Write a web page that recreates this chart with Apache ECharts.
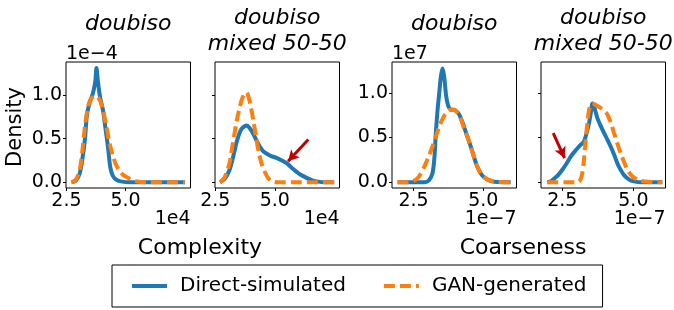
<!DOCTYPE html>
<html>
<head>
<meta charset="utf-8">
<script src="https://cdn.jsdelivr.net/npm/echarts@6/dist/echarts.min.js"></script>
<style>
  html, body { margin: 0; padding: 0; background: #fff; }
  #chart { width: 674px; height: 310px; }
</style>
</head>
<body>
<div id="chart"></div>
<script>
// Complexity (x in 1e4, density in 1e-4)
var cxDoubBlue = [2.71, 2.9, 3.06, 3.18, 3.28, 3.37, 3.5, 3.62, 3.72, 3.77, 3.83, 3.92, 4.05, 4.15, 4.26, 4.35, 4.45, 4.6, 4.8, 5.2, 6.0, 7.51];
var cyDoubBlue = [0.0, 0.02, 0.10, 0.28, 0.49, 0.78, 0.93, 1.02, 1.16, 1.31, 1.16, 0.98, 0.82, 0.62, 0.40, 0.18, 0.08, 0.03, 0.01, 0.0, 0.0, 0.0];
var cxDoubOrange = [2.71, 2.9, 3.06, 3.18, 3.28, 3.4, 3.52, 3.7, 3.9, 4.05, 4.19, 4.33, 4.47, 4.6, 4.8, 5.04, 5.47, 6.0, 7.51];
var cyDoubOrange = [0.0, 0.03, 0.14, 0.38, 0.64, 0.85, 0.95, 0.99, 0.95, 0.82, 0.64, 0.44, 0.30, 0.20, 0.11, 0.06, 0.01, 0.0, 0.0];

var cxMixBlue = [2.7, 2.9, 3.1, 3.25, 3.39, 3.5, 3.6, 3.72, 3.83, 3.95, 4.09, 4.23, 4.37, 4.5, 4.65, 4.85, 5.07, 5.3, 5.5, 5.7, 5.92, 6.13, 6.34, 6.55, 6.76, 7.1, 7.5];
var cyMixBlue = [0.0, 0.04, 0.14, 0.29, 0.45, 0.55, 0.61, 0.64, 0.65, 0.62, 0.56, 0.48, 0.41, 0.36, 0.33, 0.30, 0.28, 0.25, 0.22, 0.17, 0.12, 0.08, 0.05, 0.025, 0.01, 0.0, 0.0];
var cxMixOrange = [2.7, 2.9, 3.1, 3.2, 3.31, 3.4, 3.5, 3.62, 3.72, 3.81, 3.9, 4.02, 4.13, 4.23, 4.33, 4.44, 4.58, 4.72, 4.9, 5.2, 6.0, 7.5];
var cyMixOrange = [0.0, 0.06, 0.22, 0.38, 0.56, 0.70, 0.83, 0.95, 1.01, 1.03, 0.98, 0.83, 0.66, 0.49, 0.34, 0.22, 0.12, 0.05, 0.01, 0.0, 0.0, 0.0];

// Coarseness (x in 1e-7, density in 1e7)
var kxDoubBlue = [1.93, 2.5, 2.9, 3.05, 3.18, 3.25, 3.30, 3.36, 3.42, 3.48, 3.54, 3.60, 3.66, 3.72, 3.78, 3.86, 3.95, 4.05, 4.13, 4.22, 4.31, 4.43, 4.55, 4.67, 4.79, 4.95, 5.14, 5.4, 5.98];
var kyDoubBlue = [0, 0, 0.0, 0.02, 0.10, 0.28, 0.55, 0.80, 0.99, 1.18, 1.27, 1.18, 0.99, 0.88, 0.83, 0.81, 0.81, 0.79, 0.76, 0.70, 0.62, 0.51, 0.40, 0.28, 0.17, 0.08, 0.03, 0.005, 0];
var kxDoubOrange = [1.93, 2.3, 2.59, 2.75, 2.88, 3.03, 3.18, 3.3, 3.42, 3.56, 3.71, 3.83, 3.95, 4.04, 4.13, 4.22, 4.31, 4.43, 4.55, 4.67, 4.79, 4.95, 5.14, 5.4, 5.98];
var kyDoubOrange = [0, 0.0, 0.03, 0.09, 0.17, 0.28, 0.40, 0.51, 0.62, 0.72, 0.79, 0.81, 0.81, 0.79, 0.75, 0.69, 0.60, 0.51, 0.40, 0.28, 0.17, 0.08, 0.035, 0.008, 0];

var kxMixBlue = [1.97, 2.1, 2.21, 2.35, 2.5, 2.65, 2.8, 2.98, 3.15, 3.25, 3.32, 3.38, 3.44, 3.50, 3.56, 3.60, 3.66, 3.73, 3.85, 3.97, 4.08, 4.20, 4.32, 4.44, 4.55, 4.67, 4.85, 5.02, 5.3, 6.02];
var kyMixBlue = [0, 0.01, 0.04, 0.08, 0.14, 0.21, 0.29, 0.36, 0.42, 0.45, 0.51, 0.58, 0.66, 0.77, 0.88, 0.87, 0.80, 0.72, 0.63, 0.55, 0.48, 0.40, 0.31, 0.21, 0.14, 0.08, 0.03, 0.01, 0, 0];
var kxMixOrange = [1.97, 2.6, 3.0, 3.09, 3.15, 3.2, 3.26, 3.32, 3.38, 3.44, 3.50, 3.56, 3.65, 3.75, 3.85, 3.96, 4.08, 4.2, 4.32, 4.44, 4.56, 4.68, 4.79, 4.95, 5.14, 5.4, 6.02];
var kyMixOrange = [0, 0, 0.0, 0.01, 0.04, 0.10, 0.25, 0.47, 0.66, 0.81, 0.86, 0.88, 0.87, 0.85, 0.83, 0.80, 0.76, 0.67, 0.55, 0.43, 0.32, 0.22, 0.14, 0.07, 0.03, 0.008, 0];

var titles = ['doubiso', 'doubiso\nmixed 50-50', 'doubiso', 'doubiso\nmixed 50-50'];
var seriesNames = ['Direct-simulated', 'GAN-generated'];
var xTicks = [2.5, 5.0];
var yTicks = [0, 0.5, 1.0];

// red arrows [x0, y0, x1, y1] in data units
var arrowMix = [6.41, 0.49, 5.56, 0.24];
var arrowCoarse = [2.18, 0.55, 2.58, 0.27];

var FONT = '"DejaVu Sans", sans-serif';
var BLUE = '#1f77b4', ORANGE = '#ff7f0e';

function zip(xs, ys) {
    return xs.map(function (x, i) { return [x, ys[i]]; });
}

var panelLeft = [66, 215, 392, 541];
var panelW = 124.5, panelTop = 62, panelH = 126;
var xRange = [[2.48, 7.75], [2.49, 7.72], [1.73, 6.19], [1.75, 6.13]];
var yRange = [[-0.066, 1.38], [-0.066, 1.38], [-0.064, 1.344], [-0.064, 1.344]];

var grids = [], xAxes = [], yAxes = [];
for (var i = 0; i < 4; i++) {
    grids.push({
        left: panelLeft[i], top: panelTop, width: panelW, height: panelH,
        show: true, borderColor: '#000', borderWidth: 1, backgroundColor: 'transparent'
    });
    xAxes.push({
        type: 'value', gridIndex: i, min: xRange[i][0], max: xRange[i][1],
        axisLine: { show: false, onZero: false },
        splitLine: { show: false },
        axisTick: { show: true, length: 3, customValues: xTicks, lineStyle: { color: '#000' } },
        axisLabel: {
            customValues: xTicks, margin: 4, color: '#000', fontSize: 19, fontFamily: FONT,
            formatter: function (v) { return v.toFixed(1); }
        }
    });
    yAxes.push({
        type: 'value', gridIndex: i, min: yRange[i][0], max: yRange[i][1],
        axisLine: { show: false, onZero: false },
        splitLine: { show: false },
        axisTick: { show: true, length: 3, customValues: yTicks, lineStyle: { color: '#000' } },
        axisLabel: {
            show: i % 2 === 0, customValues: yTicks, margin: 4, color: '#000', fontSize: 19, fontFamily: FONT,
            formatter: function (v) { return v.toFixed(1); }
        }
    });
}

var curves = [
    [cxDoubBlue, cyDoubBlue, cxDoubOrange, cyDoubOrange],
    [cxMixBlue, cyMixBlue, cxMixOrange, cyMixOrange],
    [kxDoubBlue, kyDoubBlue, kxDoubOrange, kyDoubOrange],
    [kxMixBlue, kyMixBlue, kxMixOrange, kyMixOrange]
];
var arrows = [null, arrowMix, null, arrowCoarse];

var series = [];
curves.forEach(function (c, i) {
    var blue = {
        type: 'line', name: seriesNames[0], xAxisIndex: i, yAxisIndex: i,
        data: zip(c[0], c[1]), symbol: 'none', smooth: 0.3, z: 2,
        lineStyle: { color: BLUE, width: 4 }, itemStyle: { color: BLUE }
    };
    if (arrows[i]) {
        var a = arrows[i];
        blue.markLine = {
            silent: true, symbol: ['none', 'arrow'], symbolSize: [9, 11],
            label: { show: false },
            lineStyle: { color: '#c00000', width: 3, type: 'solid' },
            data: [[{ coord: [a[0], a[1]] }, { coord: [a[2], a[3]] }]]
        };
    }
    series.push(blue);
    series.push({
        type: 'line', name: seriesNames[1], xAxisIndex: i, yAxisIndex: i,
        data: zip(c[2], c[3]), symbol: 'none', smooth: 0.3, z: 3,
        lineStyle: { color: ORANGE, width: 4, type: [11, 5] }, itemStyle: { color: ORANGE }
    });
});

function txt(text, x, y, size, align, extra) {
    var el = {
        type: 'text', x: x, y: y,
        style: {
            text: text, fill: '#000', font: size + 'px ' + FONT,
            textAlign: align, textVerticalAlign: 'middle'
        }
    };
    if (extra) {
        for (var k in extra) el[k] = extra[k];
    }
    return el;
}

var graphics = [];
titles.forEach(function (t, i) {
    var cx = panelLeft[i] + panelW / 2;
    var two = t.indexOf('\n') >= 0;
    var el = txt(t, cx, two ? 31.5 : 24.5, 22, 'center');
    el.style.font = 'italic 22px ' + FONT;
    el.style.lineHeight = 26;
    graphics.push(el);
});
graphics.push(txt('1e\u22124', panelLeft[0], 54, 19, 'left'));
graphics.push(txt('1e7', panelLeft[2], 54, 19, 'left'));
graphics.push(txt('1e4', panelLeft[0] + panelW, 219.5, 19, 'right'));
graphics.push(txt('1e4', panelLeft[1] + panelW, 219.5, 19, 'right'));
graphics.push(txt('1e\u22127', panelLeft[2] + panelW, 219.5, 19, 'right'));
graphics.push(txt('1e\u22127', panelLeft[3] + panelW, 219.5, 19, 'right'));
graphics.push(txt('Complexity', 200, 248, 22, 'center'));
graphics.push(txt('Coarseness', 523, 248, 22, 'center'));
graphics.push(txt('Density', 16, 127, 21, 'center', { rotation: Math.PI / 2 }));

var myChart = echarts.init(document.getElementById('chart'), null, { renderer: 'canvas' });

var option = {
    backgroundColor: '#fff',
    animation: false,
    grid: grids,
    xAxis: xAxes,
    yAxis: yAxes,
    legend: {
        data: seriesNames,
        left: 112, top: 265,
        padding: [11, 16, 11, 18],
        borderColor: '#000', borderWidth: 1, borderRadius: 0,
        itemWidth: 35, itemHeight: 14, itemGap: 36,
        itemStyle: { opacity: 0 },
        lineStyle: { width: 4 },
        textStyle: { fontSize: 20, fontFamily: FONT, color: '#000', padding: [0, 0, 0, 8] }
    },
    graphic: graphics,
    series: series
};
myChart.setOption(option);
</script>
</body>
</html>
